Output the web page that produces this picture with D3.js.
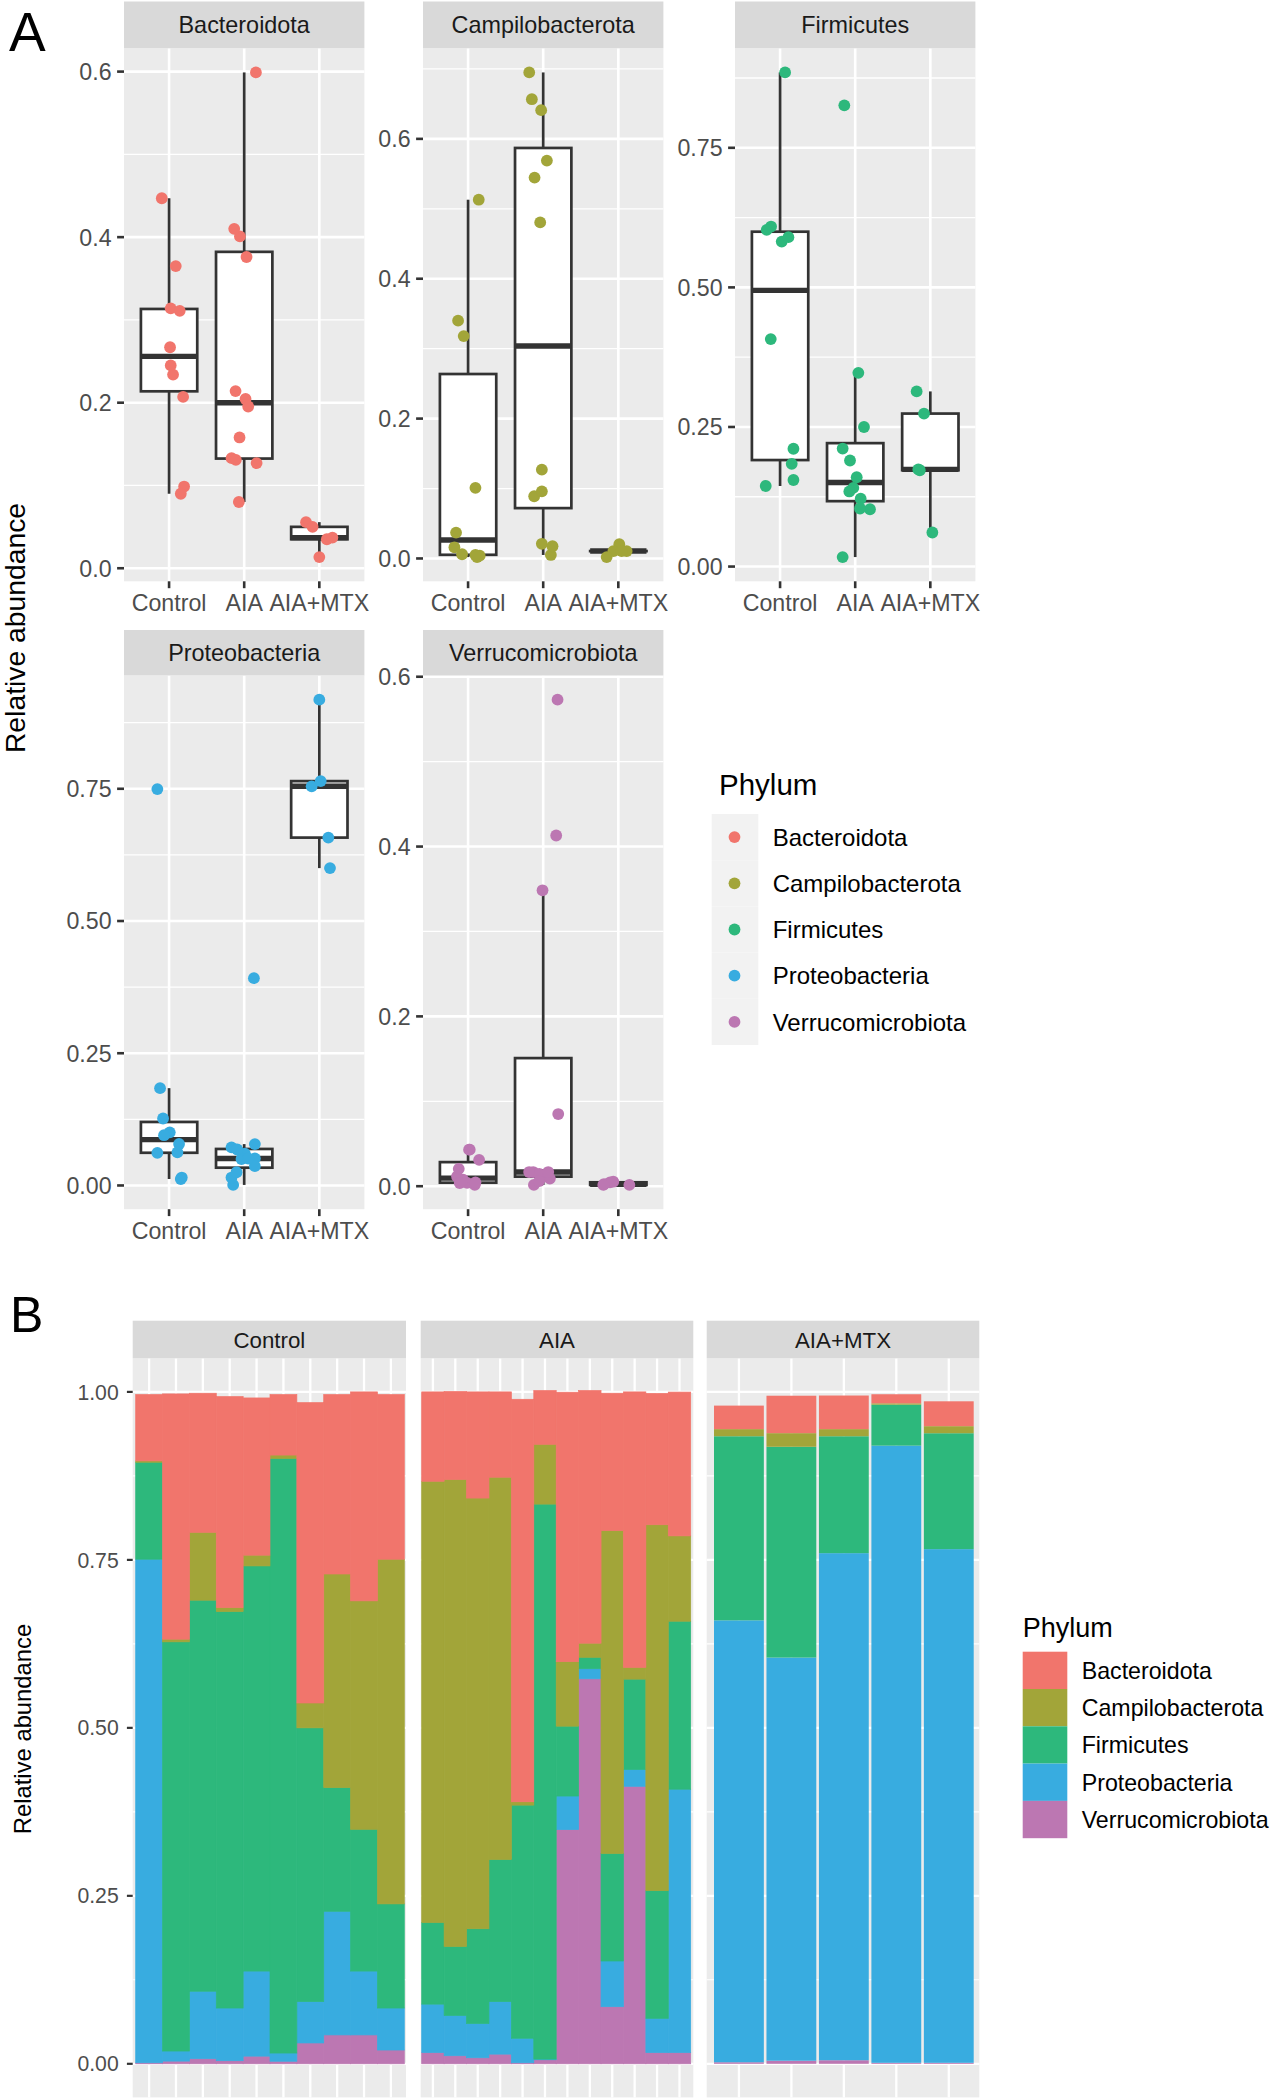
<!DOCTYPE html>
<html><head><meta charset="utf-8">
<script src="https://cdn.jsdelivr.net/npm/d3@7"></script>
<style>
body{margin:0;background:#fff}
svg{display:block}
text{font-family:"Liberation Sans",Arial,Helvetica,sans-serif}
</style>
</head><body>
<svg id="c" width="1271" height="2100"></svg>
<script>
// ---------------- DATA ----------------
const groups = ["Control", "AIA", "AIA+MTX"];
const phyla = ["Bacteroidota", "Campilobacterota", "Firmicutes", "Proteobacteria", "Verrucomicrobiota"];
const phylumColors = ["#F1756C", "#A2A539", "#2DB87C", "#38ACE0", "#BC77B2"];

const sampleGroup = ["Control","Control","Control","Control","Control","Control","Control","Control","Control","Control",
  "AIA","AIA","AIA","AIA","AIA","AIA","AIA","AIA","AIA","AIA","AIA","AIA",
  "AIA+MTX","AIA+MTX","AIA+MTX","AIA+MTX","AIA+MTX"];

// relative abundance per sample (Control 1-10, AIA 1-12, AIA+MTX 1-5)
const bacteroidota = [0.0987,0.365,0.207,0.314,0.234,0.090,0.447,0.267,0.311,0.245,
  0.133,0.131,0.158,0.127,0.599,0.080,0.401,0.376,0.2045,0.410,0.1954,0.214,
  0.035,0.0557,0.050,0.0135,0.037];
const campilobacterota = [0.002,0.004,0.101,0.006,0.016,0.005,0.037,0.318,0.340,0.513,
  0.6567,0.695,0.641,0.569,0.005,0.089,0.096,0.021,0.4805,0.0175,0.5446,0.127,
  0.0106,0.0203,0.0106,0.002,0.0105];
const firmicutes = [0.1443,0.609,0.582,0.590,0.603,0.885,0.4074,0.184,0.211,0.155,
  0.1215,0.1026,0.141,0.2114,0.347,0.826,0.104,0.017,0.160,0.1345,0.190,0.250,
  0.274,0.3137,0.174,0.061,0.1725];
const proteobacteria = [0.7495,0.015,0.1004,0.0784,0.1266,0.0122,0.0616,0.184,0.095,0.0625,
  0.0721,0.060,0.051,0.0782,0.0365,0.001,0.050,0.015,0.068,0.025,0.051,0.392,
  0.6577,0.600,0.7547,0.9185,0.7645];
const verrucomicrobiota = [0.0015,0.004,0.0076,0.0046,0.0114,0.0038,0.031,0.043,0.043,0.0205,
  0.0167,0.012,0.009,0.0144,0.0015,0.006,0.3485,0.573,0.085,0.413,0.0167,0.0167,
  0.0023,0.0046,0.0053,0.0015,0.0015];

// horizontal jitter of each point in panel A (category units)
const jitterBacteroidota = [0.2,0.089,0.187,0.022,0.053,0.156,-0.097,0.013,0.142,0.022,
  -0.168,-0.111,-0.062,0.165,0.156,-0.071,-0.057,0.031,0.018,-0.133,0.053,-0.115,
  0.1,-0.177,-0.09,0.0,0.174];
const jitterCampilobacterota = [0.12,0.155,0.098,-0.08,-0.182,0.098,-0.16,-0.058,-0.133,0.142,
  -0.151,-0.186,-0.027,0.049,0.102,-0.12,-0.018,-0.018,-0.04,0.124,-0.115,-0.018,
  0.111,0.013,-0.066,-0.155,0.044];
const jitterFirmicutes = [-0.191,-0.12,0.022,0.111,-0.178,0.067,-0.124,0.155,0.178,0.178,
  0.073,0.197,-0.025,-0.167,0.042,-0.145,0.064,-0.167,0.02,-0.078,-0.069,0.117,
  -0.084,-0.182,-0.16,0.027,-0.14];
const jitterProteobacteria = [-0.156,0.169,0.009,0.133,-0.08,0.156,-0.156,-0.12,-0.067,0.111,
  -0.169,0.009,0.142,0.142,0.142,-0.147,-0.036,-0.169,-0.093,-0.102,0.053,0.129,
  0.12,0.142,-0.102,0.0,0.018];
const jitterVerrucomicrobiota = [0.089,-0.013,-0.067,0.098,-0.147,-0.111,0.147,0.022,0.013,-0.124,
  -0.133,0.022,0.089,-0.053,-0.124,-0.053,-0.009,0.191,0.2,0.173,-0.187,0.067,
  -0.191,-0.111,-0.067,0.147,-0.2];

// tick values and labels
const ticksBacteroidota = [0, 0.2, 0.4, 0.6];
const tickLabelsBacteroidota = ["0.0", "0.2", "0.4", "0.6"];
const ticksCampilobacterota = [0, 0.2, 0.4, 0.6];
const tickLabelsCampilobacterota = ["0.0", "0.2", "0.4", "0.6"];
const ticksFirmicutes = [0, 0.25, 0.5, 0.75];
const tickLabelsFirmicutes = ["0.00", "0.25", "0.50", "0.75"];
const ticksProteobacteria = [0, 0.25, 0.5, 0.75];
const tickLabelsProteobacteria = ["0.00", "0.25", "0.50", "0.75"];
const ticksVerrucomicrobiota = [0, 0.2, 0.4, 0.6];
const tickLabelsVerrucomicrobiota = ["0.0", "0.2", "0.4", "0.6"];
const ticksB = [0, 0.25, 0.5, 0.75, 1];
const tickLabelsB = ["0.00", "0.25", "0.50", "0.75", "1.00"];

// ---------------- BUILD ----------------
const valuesByPhylum = [bacteroidota, campilobacterota, firmicutes, proteobacteria, verrucomicrobiota];
const jitterByPhylum = [jitterBacteroidota, jitterCampilobacterota, jitterFirmicutes, jitterProteobacteria, jitterVerrucomicrobiota];
const ticksByPhylum = [ticksBacteroidota, ticksCampilobacterota, ticksFirmicutes, ticksProteobacteria, ticksVerrucomicrobiota];
const tickLabelsByPhylum = [tickLabelsBacteroidota, tickLabelsCampilobacterota, tickLabelsFirmicutes, tickLabelsProteobacteria, tickLabelsVerrucomicrobiota];
const color = d3.scaleOrdinal(phyla, phylumColors);

const svg = d3.select("#c");
const PANEL = "#EBEBEB", STRIP = "#D9D9D9", AXIS_TXT = "#4D4D4D", DARK = "#333333";

// ---- Panel A ----
const A = {
  colX: [124, 423, 735], w: 240.4,
  stripTop: [1.5, 630], panelTop: [48.2, 675.4], panelBot: [581.3, 1209.2],
  grid: 2.6, gridMinor: 1.3, font: 23.2, stripFont: 23.4
};
const facetPos = [[0,0],[0,1],[0,2],[1,0],[1,1]];

function boxStats(vals) {
  const s = vals.slice().sort(d3.ascending);
  const q1 = d3.quantileSorted(s, 0.25), med = d3.quantileSorted(s, 0.5), q3 = d3.quantileSorted(s, 0.75);
  const iqr = q3 - q1;
  const lo = d3.min(s.filter(v => v >= q1 - 1.5 * iqr));
  const hi = d3.max(s.filter(v => v <= q3 + 1.5 * iqr));
  return {q1, med, q3, lo, hi};
}

svg.append("text").attr("x", 9).attr("y", 51).attr("font-size", 55).attr("fill", "#000").text("A");

phyla.forEach((ph, pi) => {
  const [r, c] = facetPos[pi];
  const x0 = A.colX[c], x1 = x0 + A.w, yT = A.panelTop[r], yBot = A.panelBot[r];
  const vals = valuesByPhylum[pi];
  const [mn, mx] = d3.extent(vals);
  const pad = (mx - mn) * 0.05;
  const y = d3.scaleLinear([mn - pad, mx + pad], [yBot, yT]);
  const x = d3.scalePoint(groups, [x0, x1]).padding(0.6);
  const g = svg.append("g");

  g.append("rect").attr("x", x0).attr("y", yT).attr("width", A.w).attr("height", yBot - yT).attr("fill", PANEL);
  const ticks = ticksByPhylum[pi];
  const step = ticks[1] - ticks[0];
  const minors = [];
  for (let k = -1; k < ticks.length; k++) {
    const v = ticks[0] + step * k + step / 2;
    if (v > y.domain()[0] && v < y.domain()[1]) minors.push(v);
  }
  g.selectAll(null).data(minors).join("line")
    .attr("x1", x0).attr("x2", x1).attr("y1", d => y(d)).attr("y2", d => y(d))
    .attr("stroke", "#fff").attr("stroke-width", A.gridMinor);
  g.selectAll(null).data(ticks).join("line")
    .attr("x1", x0).attr("x2", x1).attr("y1", d => y(d)).attr("y2", d => y(d))
    .attr("stroke", "#fff").attr("stroke-width", A.grid);
  g.selectAll(null).data(groups).join("line")
    .attr("x1", d => x(d)).attr("x2", d => x(d)).attr("y1", yT).attr("y2", yBot)
    .attr("stroke", "#fff").attr("stroke-width", A.grid);

  // boxplots
  const bw = x.step() * 0.75;
  groups.forEach(gr => {
    const gv = vals.filter((v, i) => sampleGroup[i] === gr);
    const st = boxStats(gv);
    const cx = x(gr);
    g.append("line").attr("x1", cx).attr("x2", cx).attr("y1", y(st.hi)).attr("y2", y(st.q3))
      .attr("stroke", DARK).attr("stroke-width", 2.7);
    g.append("line").attr("x1", cx).attr("x2", cx).attr("y1", y(st.q1)).attr("y2", y(st.lo))
      .attr("stroke", DARK).attr("stroke-width", 2.7);
    g.append("rect").attr("x", cx - bw / 2).attr("y", y(st.q3)).attr("width", bw)
      .attr("height", Math.max(0, y(st.q1) - y(st.q3)))
      .attr("fill", "#fff").attr("stroke", DARK).attr("stroke-width", 2.7);
    g.append("line").attr("x1", cx - bw / 2).attr("x2", cx + bw / 2).attr("y1", y(st.med)).attr("y2", y(st.med))
      .attr("stroke", DARK).attr("stroke-width", 5.4);
  });

  // jittered points
  const jit = jitterByPhylum[pi];
  g.selectAll(null).data(vals.map((v, i) => ({v, gr: sampleGroup[i], j: jit[i]}))).join("circle")
    .attr("cx", d => x(d.gr) + d.j * x.step()).attr("cy", d => y(d.v)).attr("r", 5.9)
    .attr("fill", color(ph));

  // strip
  g.append("rect").attr("x", x0).attr("y", A.stripTop[r]).attr("width", A.w)
    .attr("height", yT - A.stripTop[r]).attr("fill", STRIP);
  g.append("text").attr("x", (x0 + x1) / 2).attr("y", (yT + A.stripTop[r]) / 2).attr("dy", "0.36em")
    .attr("text-anchor", "middle").attr("font-size", A.stripFont).attr("fill", "#1A1A1A").text(ph);

  // y axis
  g.selectAll(null).data(ticks).join("line")
    .attr("x1", x0 - 6.9).attr("x2", x0).attr("y1", d => y(d)).attr("y2", d => y(d))
    .attr("stroke", DARK).attr("stroke-width", 2.6);
  g.selectAll(null).data(ticks).join("text")
    .attr("x", x0 - 12.4).attr("y", d => y(d)).attr("dy", "0.36em").attr("text-anchor", "end")
    .attr("font-size", A.font).attr("fill", AXIS_TXT)
    .text((d, i) => tickLabelsByPhylum[pi][i]);
  // x axis
  g.selectAll(null).data(groups).join("line")
    .attr("x1", d => x(d)).attr("x2", d => x(d)).attr("y1", yBot).attr("y2", yBot + 6.9)
    .attr("stroke", DARK).attr("stroke-width", 2.6);
  g.selectAll(null).data(groups).join("text")
    .attr("x", d => x(d)).attr("y", yBot + 30).attr("text-anchor", "middle")
    .attr("font-size", A.font).attr("fill", AXIS_TXT).text(d => d);
});

// y title A
svg.append("text").attr("transform", "translate(25,628) rotate(-90)").attr("text-anchor", "middle")
  .attr("font-size", 28.3).attr("fill", "#000").text("Relative abundance");

// legend A
const legA = svg.append("g");
legA.append("text").attr("x", 719).attr("y", 795).attr("font-size", 29.5).attr("fill", "#000").text("Phylum");
phyla.forEach((ph, i) => {
  const ky = 814 + i * 46.2;
  legA.append("rect").attr("x", 711.7).attr("y", ky).attr("width", 46.6).attr("height", 46.2).attr("fill", "#F2F2F2");
  legA.append("circle").attr("cx", 734.5).attr("cy", ky + 23.1).attr("r", 5.9).attr("fill", color(ph));
  legA.append("text").attr("x", 772.7).attr("y", ky + 23.1).attr("dy", "0.36em").attr("font-size", 24)
    .attr("fill", "#000").text(ph);
});

// ---- Panel B ----
svg.append("text").attr("x", 10).attr("y", 1332).attr("font-size", 50).attr("fill", "#000").text("B");

const B = {
  panels: [
    {x0: 132.7, x1: 406, r0: 135.7, r1: 404.3, pad: 0},
    {x0: 420.7, x1: 693.3, r0: 421.7, r1: 690.7, pad: 0},
    {x0: 706.7, x1: 979.3, r0: 714, r1: 973.7, pad: 0.05}
  ],
  stripTop: 1320.7, top: 1358.3, bottom: 2097.4
};
const yB = d3.scaleLinear([-0.05, 1.05], [B.bottom, B.top]);
const stackKeys = phyla.slice().reverse(); // bottom -> top: Verrucomicrobiota ... Bacteroidota
const rows = sampleGroup.map((gr, i) => {
  const o = {id: i, group: gr};
  phyla.forEach((ph, pi) => { o[ph] = valuesByPhylum[pi][i]; });
  return o;
});
const series = d3.stack().keys(stackKeys)(rows);
const minorB = [0.125, 0.375, 0.625, 0.875];

groups.forEach((gr, gi) => {
  const P = B.panels[gi];
  const ids = rows.filter(r => r.group === gr).map(r => r.id);
  const xb = d3.scaleBand(ids, [P.r0, P.r1]).paddingInner(P.pad).paddingOuter(0);
  const g = svg.append("g");
  g.append("rect").attr("x", P.x0).attr("y", B.top).attr("width", P.x1 - P.x0).attr("height", B.bottom - B.top).attr("fill", PANEL);
  g.selectAll(null).data(minorB).join("line")
    .attr("x1", P.x0).attr("x2", P.x1).attr("y1", d => yB(d)).attr("y2", d => yB(d))
    .attr("stroke", "#fff").attr("stroke-width", 1.1);
  g.selectAll(null).data(ticksB).join("line")
    .attr("x1", P.x0).attr("x2", P.x1).attr("y1", d => yB(d)).attr("y2", d => yB(d))
    .attr("stroke", "#fff").attr("stroke-width", 2.3);
  g.selectAll(null).data(ids).join("line")
    .attr("x1", d => xb(d) + xb.bandwidth() / 2).attr("x2", d => xb(d) + xb.bandwidth() / 2)
    .attr("y1", B.top).attr("y2", B.bottom).attr("stroke", "#fff").attr("stroke-width", 2.3);

  const touching = P.pad === 0;
  series.forEach(s => {
    g.selectAll(null).data(s.filter(d => d.data.group === gr)).join("rect")
      .attr("x", d => xb(d.data.id)).attr("width", xb.bandwidth())
      .attr("y", d => yB(d[1])).attr("height", d => yB(d[0]) - yB(d[1]))
      .attr("fill", color(s.key))
      .attr("stroke", touching ? color(s.key) : "none").attr("stroke-width", 0.7);
  });

  g.append("rect").attr("x", P.x0).attr("y", B.stripTop).attr("width", P.x1 - P.x0)
    .attr("height", B.top - B.stripTop).attr("fill", STRIP);
  g.append("text").attr("x", (P.x0 + P.x1) / 2).attr("y", (B.top + B.stripTop) / 2).attr("dy", "0.36em")
    .attr("text-anchor", "middle").attr("font-size", 22.3).attr("fill", "#1A1A1A").text(gr);

  if (gi === 0) {
    g.selectAll(null).data(ticksB).join("line")
      .attr("x1", P.x0 - 5.8).attr("x2", P.x0).attr("y1", d => yB(d)).attr("y2", d => yB(d))
      .attr("stroke", DARK).attr("stroke-width", 2.2);
    g.selectAll(null).data(ticksB).join("text")
      .attr("x", P.x0 - 14).attr("y", d => yB(d)).attr("dy", "0.36em").attr("text-anchor", "end")
      .attr("font-size", 21.2).attr("fill", AXIS_TXT).text((d, i) => tickLabelsB[i]);
  }
});

svg.append("text").attr("transform", "translate(31,1729) rotate(-90)").attr("text-anchor", "middle")
  .attr("font-size", 23.8).attr("fill", "#000").text("Relative abundance");

// legend B
const legB = svg.append("g");
legB.append("text").attr("x", 1022.7).attr("y", 1637).attr("font-size", 27).attr("fill", "#000").text("Phylum");
phyla.forEach((ph, i) => {
  const ky = 1651.7 + i * 37.3;
  legB.append("rect").attr("x", 1022.7).attr("y", ky).attr("width", 44.6).attr("height", 37.3).attr("fill", color(ph));
  legB.append("text").attr("x", 1081.7).attr("y", ky + 18.65).attr("dy", "0.36em").attr("font-size", 23.2)
    .attr("fill", "#000").text(ph);
});
</script>
</body></html>
